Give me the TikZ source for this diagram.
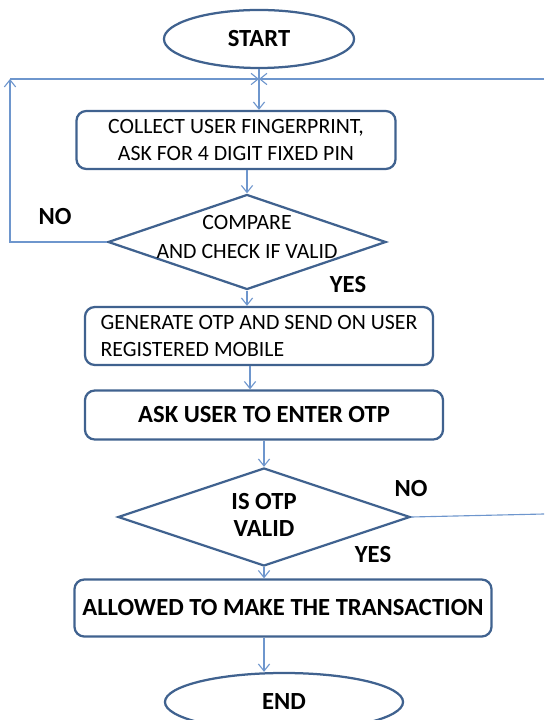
\documentclass[tikz,border=0pt]{standalone}
\usepackage{fontspec}
\setmainfont{Carlito}
\usepackage{xcolor}
\usetikzlibrary{shapes.geometric, arrows.meta}
\definecolor{shapeblue}{RGB}{64,98,143}
\definecolor{lineblue}{RGB}{110,150,205}

\begin{document}
\begin{tikzpicture}[
        x=0.025cm, y=-0.025cm,
        terminal/.style={ellipse, draw=shapeblue, line width=1.6pt, inner sep=0pt,
                         minimum width=4.75cm, minimum height=1.45cm,
                         font=\bfseries\fontsize{17.5}{19}\selectfont},
        process/.style={rectangle, rounded corners=7pt, draw=shapeblue, line width=1.6pt,
                        align=center, font=\fontsize{15.5}{18.5}\selectfont},
        decision/.style={diamond, draw=shapeblue, line width=1.6pt, inner sep=0pt},
        arrow/.style={-{Straight Barb[length=5pt,width=8pt]}, lineblue, line width=0.8pt},
        flowline/.style={lineblue, line width=0.8pt},
        answer/.style={font=\bfseries\fontsize{17.5}{19}\selectfont}
      ]
        \useasboundingbox (0,0) rectangle (544,720);
        % Nodes -- manually placed
        \node[terminal] (start) at (259,39) {START};
        \node[process, minimum width=7.975cm, minimum height=1.45cm] (collect) at (236,140)
          {COLLECT USER FINGERPRINT,\\ASK FOR 4 DIGIT FIXED PIN};
        \node[decision, minimum width=6.95cm, minimum height=2.375cm] (check) at (247,242) {};
        \node[align=center, font=\fontsize{15.5}{20}\selectfont] (checktext) at (247,237)
          {COMPARE\\AND CHECK IF VALID};
        \node[process, align=left, minimum width=8.7cm, minimum height=1.45cm] (genotp) at (259,336)
          {GENERATE OTP AND SEND ON USER\\REGISTERED MOBILE};
        \node[process, font=\bfseries\fontsize{17.5}{19}\selectfont,
              minimum width=8.95cm, minimum height=1.225cm] (askotp) at (264,415)
          {ASK USER TO ENTER OTP};
        \node[decision, minimum width=7.3cm, minimum height=2.45cm] (valid) at (264,517) {};
        \node[answer, align=center] (validtext) at (264,515) {IS OTP\\VALID};
        \node[process, font=\bfseries\fontsize{17.5}{19}\selectfont,
              minimum width=10.425cm, minimum height=1.425cm] (allow) at (283,608)
          {ALLOWED TO MAKE THE TRANSACTION};
        \node[terminal, minimum width=5.95cm] (end) at (284,702) {END};
        % Loop points
        \coordinate (join) at (259,79);
        \coordinate (loopl) at (10,79);
        \coordinate (loopr) at (544,79);
        \coordinate (exitr) at (544,514);
        \coordinate (mid2) at (250,0);
        % Edges
        \draw[arrow] (start.south) -- (start.south |- collect.north);
        \draw[arrow] (check.north |- collect.south) -- (check.north);
        \draw[arrow] (check.south) -- (check.south |- genotp.north);
        \draw[arrow] (mid2 |- genotp.south) -- (mid2 |- askotp.north);
        \draw[arrow] (valid.north |- askotp.south) -- (valid.north);
        \draw[arrow] (valid.south) -- (valid.south |- allow.north);
        \draw[arrow] (valid.south |- allow.south) -- (valid.south |- end.north);
        % Loops back
        \draw[arrow] (check.west) -- (check.west -| loopl) -- (loopl);
        \draw[arrow] (loopl) -- (join);
        \draw[flowline] (valid.east) -- (exitr);
        \draw[arrow] (loopr) -- (join);
        % Edge labels
        \node[answer] (no1) at (55,217) {NO};
        \node[answer] (yes1) at (348,285) {YES};
        \node[answer] (no2) at (411,489) {NO};
        \node[answer] (yes2) at (373,555) {YES};
      \end{tikzpicture}
\end{document}
